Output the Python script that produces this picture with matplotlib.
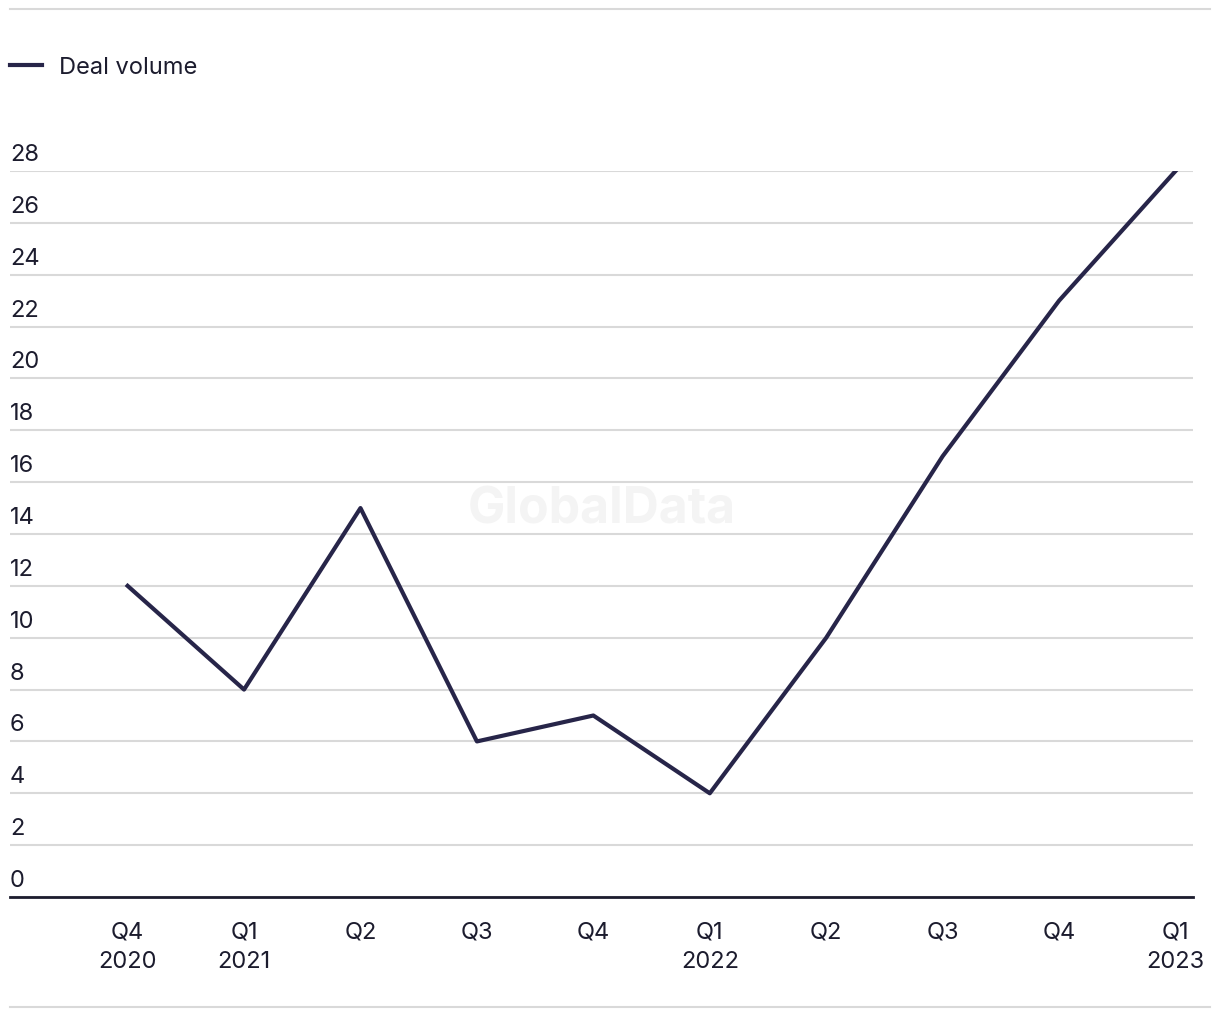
import matplotlib.pyplot as plt
from matplotlib.lines import Line2D
from matplotlib.transforms import blended_transform_factory, offset_copy

plt.rcParams['font.family'] = ['Inter', 'DejaVu Sans']

quarters = ["Q4\n2020", "Q1\n2021", "Q2", "Q3", "Q4", "Q1\n2022", "Q2", "Q3", "Q4", "Q1\n2023"]
deal_volume = [12, 8, 15, 6, 7, 4, 10, 17, 23, 28]
y_ticks = list(range(0, 29, 2))

navy = "#272549"
text_col = "#1c1c2e"
grid_col = "#d9d9d9"

fig = plt.figure(figsize=(12.2, 10.2), dpi=100)
ax = fig.add_axes([10 / 1220, 122 / 1020, 1183 / 1220, 726 / 1020])

x = list(range(len(deal_volume)))
ax.plot(x, deal_volume, color=navy, linewidth=3, label="Deal volume", zorder=3)

ax.set_xlim(-1.01, 9.15)
ax.set_ylim(0, 28)
ax.set_yticks(y_ticks)
ax.set_yticklabels([])
ax.tick_params(axis="y", length=0)
ax.grid(axis="y", color=grid_col, linewidth=1.5)
ax.set_axisbelow(True)

for s in ["top", "left", "right"]:
    ax.spines[s].set_visible(False)
ax.spines["bottom"].set_color(text_col)
ax.spines["bottom"].set_linewidth(2)

ax.set_xticks(x)
ax.set_xticklabels(quarters, fontsize=17, color=text_col, linespacing=1.45)
ax.tick_params(axis="x", length=0, pad=17)

trans = blended_transform_factory(ax.transAxes, ax.transData)
trans = offset_copy(trans, fig=fig, x=0, y=6, units="dots")
for v in y_ticks:
    ax.text(0, v, str(v), transform=trans, fontsize=17, color=text_col,
            ha="left", va="bottom")

# watermark
ax.text(0.5, 0.535, "GlobalData", transform=ax.transAxes, fontsize=36,
        fontweight="bold", color="#f4f4f4", ha="center", va="center", zorder=0)

# legend
fig.legend(loc="center left", bbox_to_anchor=(10 / 1220, 1 - 68 / 1020),
           frameon=False, fontsize=17, handlelength=1.36, handletextpad=0.72,
           borderpad=0, borderaxespad=0, labelcolor=text_col)

# top and bottom rules
fig.add_artist(Line2D([10 / 1220, 1210 / 1220], [1 - 10 / 1020] * 2,
                      color=grid_col, linewidth=1.5))
fig.add_artist(Line2D([10 / 1220, 1210 / 1220], [1 - 1008 / 1020] * 2,
                      color=grid_col, linewidth=1.5))

fig.savefig("out.png", dpi=100, facecolor="white")
